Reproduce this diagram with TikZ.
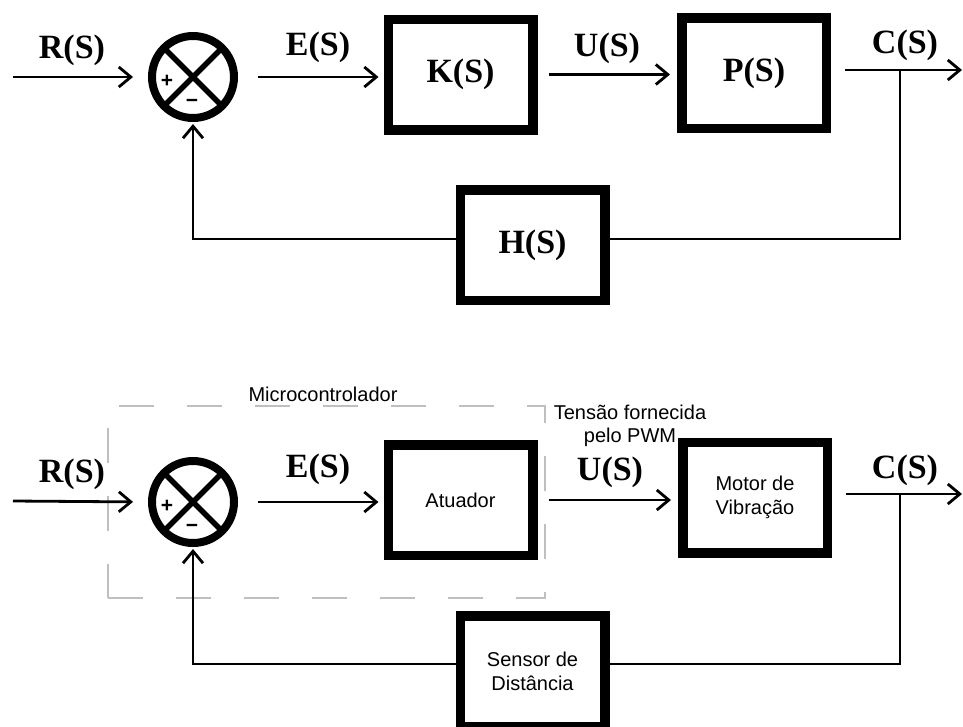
\documentclass[tikz,border=0pt]{standalone}
\usepackage{fontspec}
\setmainfont{Liberation Sans}
\newfontfamily\lserif{Liberation Serif}
\usetikzlibrary{arrows.meta}
\begin{document}
\begin{tikzpicture}[x=1pt,y=-1pt,
  blk/.style={draw, line width=9.5pt, minimum width=144.5pt, minimum height=110.5pt, inner sep=0pt, align=center, font=\fontsize{20}{24}\selectfont},
  sig/.style={font=\lserif\bfseries\fontsize{34}{40}\selectfont, inner sep=0pt},
  txt/.style={font=\fontsize{20}{23}\selectfont, inner sep=0pt, align=center},
  sumj/.style={circle, draw, line width=8pt, minimum size=82pt, inner sep=0pt},
  pm/.style={font=\bfseries\fontsize{21}{21}\selectfont, inner sep=0pt},
  xline/.style={line width=5.5pt},
  wire/.style={line width=2.8pt},
  arr/.style={wire, -{Straight Barb[length=12pt,width=20pt]}},
  dbox/.style={draw=gray!50, line width=1.6pt, dash pattern=on 35pt off 33pt, inner sep=0pt}]
\useasboundingbox (0,0) rectangle (963,726);

% ---------------- top diagram ----------------
\node[sumj] (sum1) at (193,77) {};
\draw[xline] ([shift={(45:41)}]sum1.center) -- ([shift={(225:41)}]sum1.center);
\draw[xline] ([shift={(135:41)}]sum1.center) -- ([shift={(315:41)}]sum1.center);
\node[pm] (p1) at (167,81) {+};
\node[pm] (m1) at (192,103) {−};

\node[blk, sig] (K) at (460.5,74.5) {K(S)};
\node[blk, sig] (P) at (754,73) {P(S)};
\node[blk, sig] (H) at (532.5,245) {H(S)};

\node[sig] (lR1) at (72,50) {R(S)};
\node[sig] (lE1) at (318,47) {E(S)};
\node[sig] (lU1) at (607,48) {U(S)};
\node[sig] (lC1) at (905,45) {C(S)};

\coordinate (rin1) at (13,77);
\coordinate (cbr1) at (900,70);
\coordinate (cout1) at (962,70);
\coordinate (fbr1) at (900,239);
\coordinate (fbl1) at (193,239);

\draw[arr, shorten >=15pt] (rin1) -- (sum1.west);
\draw[arr, shorten <=20pt, shorten >=5pt] (sum1.east) -- (sum1.east -| K.west);
\draw[arr, shorten <=11pt, shorten >=7pt] (K.east) -- (K.east -| P.west);
\draw[arr, shorten <=14pt] (P.east |- cbr1) -- (cout1);
\draw[wire] (cbr1) -- (fbr1) -- (fbr1 -| H.east);
\draw[arr, shorten >=2pt] (fbl1 -| H.west) -- (fbl1) -- (sum1.south);

% ---------------- bottom diagram ----------------
\node[dbox, minimum width=437pt, minimum height=192pt] (mc) at (326.5,502) {};
\node[txt] (mclab) at (323,394) {Microcontrolador};
\node[txt] (pwm) at (630,426) {Tensão fornecida\\pelo PWM};

\node[sumj] (sum2) at (193,502) {};
\draw[xline] ([shift={(45:41)}]sum2.center) -- ([shift={(225:41)}]sum2.center);
\draw[xline] ([shift={(135:41)}]sum2.center) -- ([shift={(315:41)}]sum2.center);
\node[pm] (p2) at (167,506) {+};
\node[pm] (m2) at (192,528) {−};

\node[blk] (A) at (460.5,500) {Atuador};
\node[blk] (M) at (755,497.5) {Motor de\\Vibração};
\node[blk] (S) at (532.5,671) {Sensor de\\Distância};

\node[sig] (lR2) at (72,474) {R(S)};
\node[sig] (lE2) at (318,469) {E(S)};
\node[sig] (lU2) at (610,472) {U(S)};
\node[sig] (lC2) at (905,470) {C(S)};

\coordinate (rin2) at (13,501);
\coordinate (cbr2) at (900,494);
\coordinate (cout2) at (962,494);
\coordinate (fbr2) at (900,664);
\coordinate (fbl2) at (193,664);

\draw[arr, shorten >=15pt] (rin2) -- (sum2.west);
\draw[arr, shorten <=20pt, shorten >=5pt] (sum2.east) -- (sum2.east -| A.west);
\draw[arr, shorten <=11pt, shorten >=7pt] (A.east) -- (A.east -| M.west);
\draw[arr, shorten <=14pt] (M.east |- cbr2) -- (cout2);
\draw[wire] (cbr2) -- (fbr2) -- (fbr2 -| S.east);
\draw[arr, shorten >=2pt] (fbl2 -| S.west) -- (fbl2) -- (sum2.south);
\end{tikzpicture}
\end{document}
